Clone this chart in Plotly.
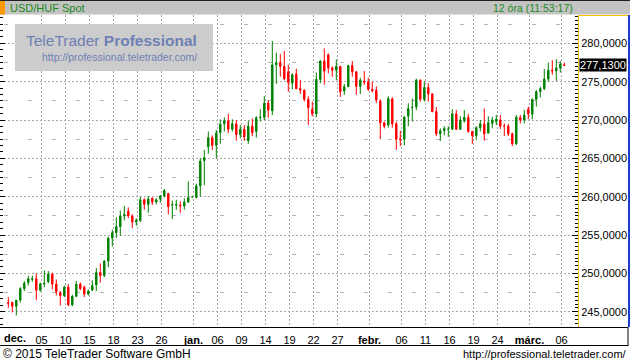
import plotly.graph_objects as go

# ---------------- data (12-hour candles, USD/HUF spot) ----------------
opens = [246.2, 246.2, 245.7, 246.5, 248.0, 248.8, 249.2, 249.3, 247.8, 248.6,
         248.9, 249.9, 248.6, 247.5, 247.1, 248.2, 245.9, 247.0, 248.6, 248.2,
         247.3, 247.8, 248.5, 250.1, 249.7, 251.6, 254.6, 255.3, 256.1, 257.5,
         258.1, 257.5, 256.7, 256.9, 259.6, 259.0, 259.8, 259.3, 259.7, 260.1,
         260.4, 258.9, 258.9, 258.9, 258.8, 259.3, 259.95, 259.9, 261.4, 264.7,
         266.5, 267.7, 266.7, 268.35, 269.5, 269.9, 268.8, 269.5, 268.1, 268.8,
         267.3, 269.2, 268.5, 270.3, 270.35, 272.2, 271.2, 277.2, 277.5, 277.0,
         276.3, 274.8, 276.0, 274.1, 273.9, 272.7, 271.4, 270.8, 275.3, 277.7,
         278.5, 276.8, 276.5, 277.0, 273.8, 274.35, 277.1, 276.3, 274.4, 275.05,
         275.0, 274.0, 273.9, 272.5, 269.65, 269.35, 272.75, 269.5, 267.55, 267.5,
         270.5, 271.6, 271.7, 275.2, 272.7, 274.25, 273.4, 271.1, 268.2, 268.6,
         268.78, 268.8, 270.8, 268.8, 269.9, 270.35, 268.5, 267.95, 269.0, 269.5,
         268.3, 269.55, 269.8, 270.0, 269.22, 269.2, 268.2, 266.9, 270.35, 270.0,
         271.4, 270.75, 272.7, 273.7, 274.1, 275.35, 276.5, 276.4, 276.8, 277.2]
highs = [246.9, 246.3, 246.5, 248.2, 249.0, 249.7, 249.7, 250.0, 248.8, 250.4,
         250.3, 250.1, 249.2, 247.7, 248.4, 248.6, 247.2, 249.0, 248.8, 248.4,
         247.9, 249.1, 250.7, 251.3, 251.7, 254.8, 255.7, 257.3, 258.2, 258.8,
         258.6, 257.7, 257.2, 260.0, 259.8, 260.1, 259.9, 259.8, 260.2, 261.0,
         260.5, 259.5, 259.6, 259.4, 259.8, 262.0, 260.0, 261.7, 265.0, 266.1,
         268.5, 268.0, 268.7, 270.1, 270.35, 270.8, 270.1, 270.0, 269.35, 269.35,
         269.9, 270.2, 270.5, 271.4, 273.1, 272.6, 280.3, 278.8, 278.6, 279.0,
         277.2, 276.1, 276.7, 275.2, 274.0, 273.1, 272.4, 276.2, 277.8, 279.35,
         278.7, 277.0, 277.9, 277.0, 274.7, 277.2, 277.7, 276.3, 275.5, 276.4,
         275.5, 275.0, 274.4, 272.7, 269.8, 273.1, 273.0, 269.8, 268.6, 270.5,
         272.2, 272.8, 275.4, 275.3, 275.0, 274.8, 273.5, 271.7, 268.9, 269.2,
         269.2, 271.4, 271.3, 270.5, 271.3, 270.8, 268.6, 269.2, 270.0, 271.5,
         270.5, 270.4, 270.65, 270.65, 269.55, 269.5, 268.35, 270.65, 270.65, 271.3,
         271.75, 272.8, 273.9, 274.35, 276.65, 277.5, 277.8, 277.95, 277.7, 277.5]
lows = [245.5, 244.9, 244.5, 246.2, 247.7, 248.4, 248.9, 246.5, 247.6, 248.2,
        248.7, 247.9, 247.1, 245.8, 246.9, 245.7, 245.7, 246.9, 247.8, 246.9,
        247.1, 247.7, 247.7, 248.8, 249.5, 250.8, 253.5, 254.6, 254.9, 256.9,
        257.2, 255.9, 256.2, 256.7, 258.3, 257.9, 258.9, 259.0, 259.2, 259.9,
        257.7, 257.1, 258.3, 257.9, 258.3, 259.2, 259.9, 259.8, 260.0, 261.5,
        265.6, 266.1, 265.0, 266.9, 268.5, 268.3, 268.5, 267.3, 267.6, 267.3,
        266.9, 267.9, 267.7, 269.8, 270.0, 270.3, 270.65, 274.7, 275.65, 275.2,
        273.7, 274.0, 274.0, 273.4, 272.4, 269.35, 270.5, 270.35, 274.8, 274.6,
        276.1, 275.65, 275.2, 273.0, 273.3, 274.3, 275.65, 273.3, 273.4, 274.6,
        273.8, 273.6, 272.2, 267.5, 268.9, 269.0, 269.0, 266.1, 266.6, 266.7,
        269.2, 269.8, 271.3, 272.4, 272.4, 272.4, 271.0, 267.9, 267.25, 268.0,
        267.8, 268.7, 268.7, 268.7, 269.65, 268.35, 266.9, 267.4, 268.5, 267.3,
        268.25, 268.9, 269.35, 268.8, 267.9, 267.9, 266.6, 266.75, 269.55, 269.55,
        270.1, 270.1, 271.75, 272.95, 273.9, 275.0, 275.9, 275.1, 276.2, 277.05]
closes = [246.1, 245.7, 246.5, 248.0, 248.7, 249.3, 249.3, 247.8, 248.6, 248.7,
          249.9, 248.6, 247.6, 247.1, 248.2, 245.9, 247.0, 248.6, 248.0, 247.3,
          247.7, 248.4, 250.1, 249.7, 251.6, 254.6, 255.3, 256.1, 257.5, 257.7,
          257.5, 256.7, 256.9, 259.6, 259.0, 259.7, 259.3, 259.6, 260.1, 260.8,
          258.7, 258.95, 259.0, 258.8, 259.3, 259.9, 259.95, 261.4, 264.65, 265.1,
          267.7, 266.7, 268.3, 269.45, 269.9, 268.8, 269.5, 268.1, 268.8, 267.8,
          269.2, 268.35, 270.3, 270.35, 272.2, 271.3, 277.2, 277.5, 277.0, 275.4,
          274.9, 275.9, 274.1, 273.9, 272.7, 271.6, 270.8, 275.3, 277.7, 276.4,
          276.8, 276.5, 277.0, 273.7, 274.35, 277.1, 276.3, 274.4, 275.2, 274.95,
          274.0, 273.8, 272.6, 269.65, 269.2, 272.8, 269.5, 267.5, 267.45, 270.4,
          271.5, 271.65, 275.2, 272.7, 274.25, 273.4, 271.1, 268.2, 268.6, 268.9,
          268.8, 270.8, 268.8, 270.0, 270.35, 268.5, 267.95, 269.0, 269.5, 268.2,
          269.65, 270.0, 270.1, 269.2, 269.2, 268.2, 266.9, 270.35, 270.0, 270.65,
          270.8, 272.7, 273.7, 274.1, 275.35, 276.5, 276.4, 276.8, 277.3, 277.13]
candle_index = list(range(len(closes)))

# trading-day numbers (2 candles per day) of the labelled grid lines
tick_days = [4, 7, 10, 13, 16, 19, 23, 26, 29, 32, 35, 38, 41, 45, 49, 52, 55, 58, 61, 65, 69]
tick_labels = ['05', '10', '15', '18', '23', '26', '<b>jan.</b>', '06', '09', '14', '19', '22', '27',
               '<b>febr.</b>', '06', '11', '16', '19', '24', '<b>márc.</b>', '06']
first_month_label = '<b>dec.</b>'

title_text = 'USD/HUF Spot'
period_text = '12 óra (11:53:17)'
wm_line1 = 'TeleTrader <b>Professional</b>'
wm_line2 = 'http://professional.teletrader.com/'
footer_left = '© 2015 TeleTrader Software GmbH'
footer_right = 'http://professional.teletrader.com/'

# ---------------- layout geometry ----------------
W, H = 630, 364
PL, PR, PT, PB = 0, 578, 15, 327
Y_MIN, Y_MAX = 243.0, 283.7
X_MIN = -2.075
X_MAX = X_MIN + (PR - PL) / 4.0

def px(x):
    return (x - PL) / (PR - PL)

def py(y):
    return (PB - y) / (PB - PT)

FONT = 'Liberation Sans, Arial, sans-serif'
GREEN = '#008000'
RED = '#ff0000'

fig = go.Figure()
fig.add_trace(go.Candlestick(
    x=candle_index, open=opens, high=highs, low=lows, close=closes,
    increasing=dict(line=dict(color=GREEN, width=1), fillcolor=GREEN),
    decreasing=dict(line=dict(color=RED, width=1), fillcolor=RED),
    whiskerwidth=0, showlegend=False, hoverinfo='skip'))
# empty helper traces so the overlay axes are drawn
fig.add_trace(go.Scatter(x=[], y=[], yaxis='y2', showlegend=False, hoverinfo='skip'))
fig.add_trace(go.Scatter(x=[], y=[], yaxis='y3', showlegend=False, hoverinfo='skip'))

tickvals = [2 * d + 0.3 for d in tick_days]

shapes = [
    # header bar
    dict(type='rect', xref='paper', yref='paper', x0=px(0), x1=px(W), y0=py(14.5), y1=py(0),
         fillcolor='#c3c3c3', line=dict(width=0), layer='above'),
    dict(type='rect', xref='paper', yref='paper', x0=px(0), x1=px(5), y0=py(14.5), y1=py(0),
         fillcolor='#ff9900', line=dict(width=0), layer='above'),
    dict(type='line', xref='paper', yref='paper', x0=px(0), x1=px(W), y0=py(0.5), y1=py(0.5),
         line=dict(color='#202020', width=1), layer='above'),
    # right price panel frame
    dict(type='line', xref='paper', yref='paper', x0=px(578), x1=px(628), y0=py(15.5), y1=py(15.5),
         line=dict(color='#f0c000', width=1), layer='above'),
    dict(type='line', xref='paper', yref='paper', x0=px(629), x1=px(629), y0=py(15), y1=py(327),
         line=dict(color='#1a3ccc', width=2), layer='above'),
    dict(type='line', xref='paper', yref='paper', x0=px(578), x1=px(628), y0=py(327.5), y1=py(327.5),
         line=dict(color='#000000', width=1), layer='above'),
    # bottom strip
    dict(type='line', xref='paper', yref='paper', x0=px(0), x1=px(628), y0=py(345.5), y1=py(345.5),
         line=dict(color='#000000', width=1), layer='above'),
    dict(type='line', xref='paper', yref='paper', x0=px(628), x1=px(628), y0=py(327), y1=py(346),
         line=dict(color='#000000', width=1), layer='above'),
    # watermark box
    dict(type='rect', xref='paper', yref='paper', x0=px(15), x1=px(213), y0=py(71), y1=py(24),
         fillcolor='#cccccc', line=dict(width=0), layer='above'),
]

annotations = [
    dict(text=title_text, xref='paper', yref='paper', x=px(8), y=py(7.5), xanchor='left', yanchor='middle',
         showarrow=False, font=dict(family=FONT, size=11, color='#1a8a1a')),
    dict(text=period_text, xref='paper', yref='paper', x=px(575), y=py(7.5), xanchor='right', yanchor='middle',
         showarrow=False, font=dict(family=FONT, size=10.5, color='#1a8a1a')),
    dict(text=wm_line1, xref='paper', yref='paper', x=px(199), y=py(40.5), xanchor='right', yanchor='middle',
         showarrow=False, font=dict(family=FONT, size=15.5, color='#6f80b6')),
    dict(text=wm_line2, xref='paper', yref='paper', x=px(199), y=py(57.5), xanchor='right', yanchor='middle',
         showarrow=False, font=dict(family=FONT, size=10.5, color='#6f80b6')),
    dict(text=first_month_label, xref='paper', yref='paper', x=px(2), y=py(338), xanchor='left', yanchor='middle',
         showarrow=False, font=dict(family=FONT, size=11, color='#000000')),
    dict(text=footer_left, xref='paper', yref='paper', x=px(1), y=py(354), xanchor='left', yanchor='middle',
         showarrow=False, font=dict(family=FONT, size=12, color='#000000')),
    dict(text=footer_right, xref='paper', yref='paper', x=px(629), y=py(354), xanchor='right', yanchor='middle',
         showarrow=False, font=dict(family=FONT, size=11, color='#000000')),
    dict(text=f"{closes[-1]:.4f}".replace('.', ','), xref='paper', yref='y', x=px(578.5), y=closes[-1],
         xanchor='left', yanchor='middle', showarrow=False, bgcolor='#000000', borderpad=0,
         font=dict(family=FONT, size=11, color='#ffffff')),
]

fig.update_layout(
    width=W, height=H, autosize=False,
    margin=dict(l=PL, r=W - PR, t=PT, b=H - PB, pad=0),
    paper_bgcolor='#ffffff', plot_bgcolor='#ffffff',
    separators=',.',
    showlegend=False, hovermode=False,
    boxgap=0.5,
    xaxis=dict(range=[X_MIN, X_MAX], rangeslider=dict(visible=False),
               tickmode='array', tickvals=tickvals, ticktext=tick_labels,
               showgrid=True, gridcolor='#a8a8a8', gridwidth=1, griddash='2px,2px',
               showline=True, linecolor='#000000', linewidth=1,
               ticks='outside', ticklen=3, tickcolor='rgba(0,0,0,0)',
               tickfont=dict(family=FONT, size=11, color='#000000'), zeroline=False, fixedrange=True),
    yaxis=dict(range=[Y_MIN, Y_MAX], side='right', tickmode='linear', tick0=0, dtick=5,
               tickformat='.4f', showgrid=True, gridcolor='#a8a8a8', gridwidth=1, griddash='2px,2px',
               showline=True, linecolor='#f0c000', linewidth=1,
               ticks='inside', ticklen=6, tickcolor='#000000', tickwidth=1,
               minor=dict(dtick=0.5, tick0=0, ticks='inside', ticklen=3, tickcolor='#000000', showgrid=False),
               tickfont=dict(family=FONT, size=11, color='#000000'), zeroline=False, fixedrange=True),
    yaxis2=dict(range=[Y_MIN, Y_MAX], overlaying='y', side='left', anchor='x',
                tickmode='linear', tick0=0, dtick=5, showticklabels=False, showgrid=False,
                ticks='inside', ticklen=5, tickcolor='#000000',
                minor=dict(dtick=5 / 6, tick0=0, ticks='inside', ticklen=3, tickcolor='#000000', showgrid=False),
                showline=False, zeroline=False, fixedrange=True),
    yaxis3=dict(range=[Y_MIN, Y_MAX], overlaying='y', side='left', anchor='x',
                tickmode='linear', tick0=2.5, dtick=5, showticklabels=False, ticks='',
                showgrid=True, gridcolor='#b4b4b4', gridwidth=1, griddash='0px,4px,3.5px,16.5px',
                showline=False, zeroline=False, fixedrange=True),
    shapes=shapes,
    annotations=annotations,
)

fig.write_html("out.html")
